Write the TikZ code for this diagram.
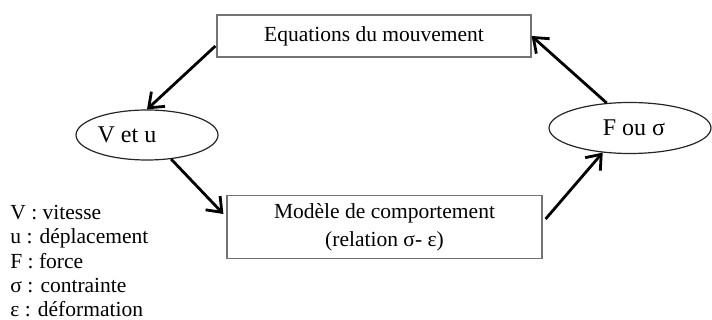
\documentclass[tikz,border=0pt]{standalone}
\usepackage{fontspec}
\setmainfont{Liberation Serif}
\usetikzlibrary{calc,shapes.geometric,arrows.meta}
\tikzset{boite/.style={draw=black!55,line width=0.6pt,rectangle,inner sep=0pt,align=center},
    bulle/.style={draw=black!85,line width=0.6pt,ellipse,inner sep=0pt,font=\fontsize{12}{14}\selectfont},
    fleche/.style={line width=1.4pt,-{Straight Barb[length=6.5pt,width=10pt,line width=1.4pt]}}}
\begin{document}
\begin{tikzpicture}[x=0.5pt,y=0.5pt,yscale=-1,xscale=1,font=\fontsize{10.75}{12.15}\selectfont]
%set diagram size
\useasboundingbox (0,0) rectangle (712,320);

%Shape: Rectangle
\node [boite,minimum width=157pt,minimum height=21pt] (eqmvt) at (374,36) {Equations du mouvement};
%Shape: Rectangle
\node [boite,minimum width=157.5pt,minimum height=31.5pt] (modele) at (384.5,227) {Mod\`ele de comportement\\[2pt](relation σ- ε)};
%Shape: Ellipse
\node [bulle,minimum width=71pt,minimum height=25pt] (vu) at (147,135) {\hspace*{-20pt}V et u};
%Shape: Ellipse
\node [bulle,minimum width=81pt,minimum height=25.5pt] (fsig) at (630,128) {\hspace*{4pt}F ou σ};

%Straight Lines
\draw [fleche] ($(eqmvt.west)+(-1,10)$) -- (vu.north);
\draw [fleche] (vu.-45) -- ($(modele.west)+(-3,-13)$);
\draw [fleche] ($(modele.east)+(3,-8)$) -- (fsig.222);
\draw [fleche] (fsig.133) -- (eqmvt.east);

% Text Node
\node [anchor=north west,inner sep=0pt,align=left] (legende) at (10,205) {V : vitesse\\u : d\'eplacement\\F : force\\σ : contrainte\\ε : d\'eformation};

\end{tikzpicture}
\end{document}
